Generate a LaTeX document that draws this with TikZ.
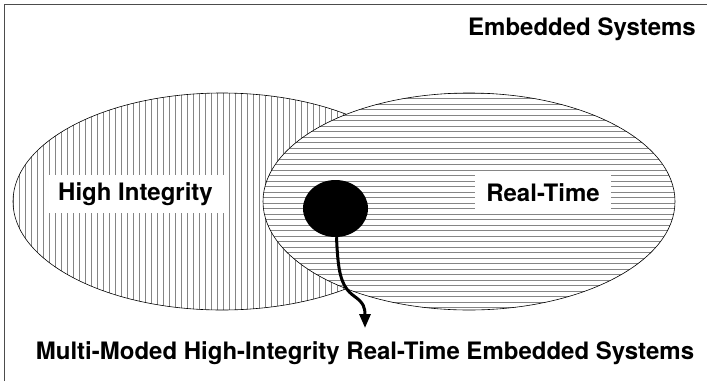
\documentclass[tikz,border=0pt]{standalone}
\usepackage{fontspec}
\setmainfont{TeX Gyre Heros}
\usetikzlibrary{shapes.geometric,arrows.meta}
\tikzset{
  hatchline/.style={black!48, line width=1pt},
  setedge/.style={black, line width=0.6pt},
  setlabel/.style={fill=white, inner xsep=11pt, minimum height=38pt, font=\fontsize{24}{28}\selectfont\bfseries},
  title/.style={font=\fontsize{24}{28}\selectfont\bfseries, inner sep=0pt},
  frameline/.style={black!70, line width=1.4pt},
}
\begin{document}
\begin{tikzpicture}[x=1pt,y=-1pt]
\useasboundingbox (0,0) rectangle (707,381);
% frame
\draw[frameline] (4.5,381) -- (4.5,4.5) -- (707,4.5);
% High Integrity set
\fill[white] (222,201.5) ellipse [x radius=209, y radius=108.5];
\begin{scope}
  \clip (222,201.5) ellipse [x radius=209, y radius=108.5];
  \foreach \i in {0,...,72} { \draw[hatchline] (13+\i*6,90) -- (13+\i*6,312); }
\end{scope}
\draw[setedge] (222,201.5) ellipse [x radius=209, y radius=108.5];
% Real-Time set
\fill[white] (469,201.5) ellipse [x radius=206, y radius=108.5];
\begin{scope}
  \clip (469,201.5) ellipse [x radius=206, y radius=108.5];
  \foreach \i in {0,...,40} { \draw[hatchline] (260,93+\i*5.5) -- (680,93+\i*5.5); }
\end{scope}
\draw[setedge] (469,201.5) ellipse [x radius=206, y radius=108.5];
% labels
\node[setlabel] (hi) at (135.5,194) {High Integrity};
\node[setlabel] (rt) at (543,193) {Real-Time};
\node[title, anchor=base east] (es) at (696,35) {Embedded Systems};
\node[title, anchor=base] (mm) at (365,359) {Multi-Moded High-Integrity Real-Time Embedded Systems};
% intersection blob and arrow
\node[ellipse, fill=black, inner sep=0pt, minimum width=65pt, minimum height=57pt] (blob) at (335.5,208.5) {};
\coordinate (tip) at (365,328);
\draw[line width=3pt, -{Triangle[length=14pt,width=11pt]}] ([xshift=1pt]blob.south) .. controls (338,270) and (340,286) .. (354,296) .. controls (364,303) and (365,308) .. (tip);
\end{tikzpicture}
\end{document}
